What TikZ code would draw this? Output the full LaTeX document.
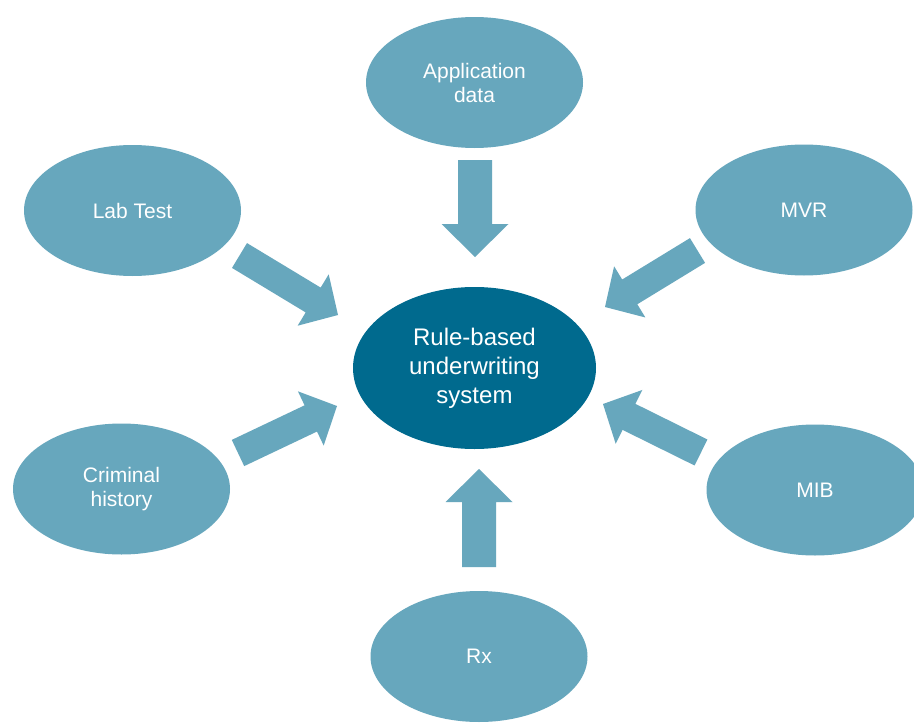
\documentclass[tikz,border=0pt]{standalone}
\usepackage{fontspec}
\setmainfont{Liberation Sans}
\usetikzlibrary{shapes.geometric,calc}
\definecolor{outerblue}{RGB}{103,167,189}
\definecolor{centerblue}{RGB}{0,106,142}
\tikzset{
  outernode/.style={ellipse, fill=outerblue, text=white, align=center, inner sep=0pt,
    minimum width=217pt, minimum height=131pt, font=\fontsize{21}{24}\selectfont},
  centernode/.style={ellipse, fill=centerblue, text=white, align=center, inner sep=0pt,
    minimum width=243pt, minimum height=162pt, font=\fontsize{24}{29}\selectfont},
  arrowfill/.style={fill=outerblue}
}
\newcommand{\blockarrow}[5]{%
  \coordinate (#1-h) at ($(#2)!#5!(#1)$);
  \fill[arrowfill] ($(#1)!#3!90:(#2)$) -- ($(#1-h)!#3!90:(#2)$) -- ($(#1-h)!#4!90:(#2)$)
    -- (#2) -- ($(#1-h)!#4!-90:(#2)$) -- ($(#1-h)!#3!-90:(#2)$) -- ($(#1)!#3!-90:(#2)$) -- cycle;
}
\begin{document}
\begin{tikzpicture}[x=1pt,y=-1pt]
\clip (0,0) rectangle (914,728);
\fill[white] (0,0) rectangle (914,728);

\node[centernode] (center) at (474.5,368) {Rule-based\\underwriting\\system};
\node[outernode] (app) at (474.5,82.5) {Application\\data};
\node[outernode] (lab) at (132.5,210.5) {Lab Test};
\node[outernode] (mvr) at (804,210) {MVR};
\node[outernode] (crim) at (121.5,489) {Criminal\\history};
\node[outernode] (mib) at (815,490) {MIB};
\node[outernode] (rx) at (479,656.5) {Rx};

\coordinate (app-s) at (475,160);   \coordinate (app-t) at (475,257);
\coordinate (rx-s) at (479,567);    \coordinate (rx-t) at (479,469);
\coordinate (lab-s) at (239.5,255.5); \coordinate (lab-t) at (338,315);
\coordinate (crim-s) at (238,453);  \coordinate (crim-t) at (337,406);
\coordinate (mvr-s) at (697.5,250.5); \coordinate (mvr-t) at (605,307);
\coordinate (mib-s) at (701,452.5); \coordinate (mib-t) at (603,404);

\blockarrow{app-s}{app-t}{17pt}{33.5pt}{33pt}
\blockarrow{rx-s}{rx-t}{17pt}{33.5pt}{33pt}
\blockarrow{lab-s}{lab-t}{14.5pt}{30pt}{29pt}
\blockarrow{crim-s}{crim-t}{14.5pt}{30pt}{29pt}
\blockarrow{mvr-s}{mvr-t}{14.5pt}{30pt}{29pt}
\blockarrow{mib-s}{mib-t}{14.5pt}{30pt}{29pt}
\end{tikzpicture}
\end{document}
